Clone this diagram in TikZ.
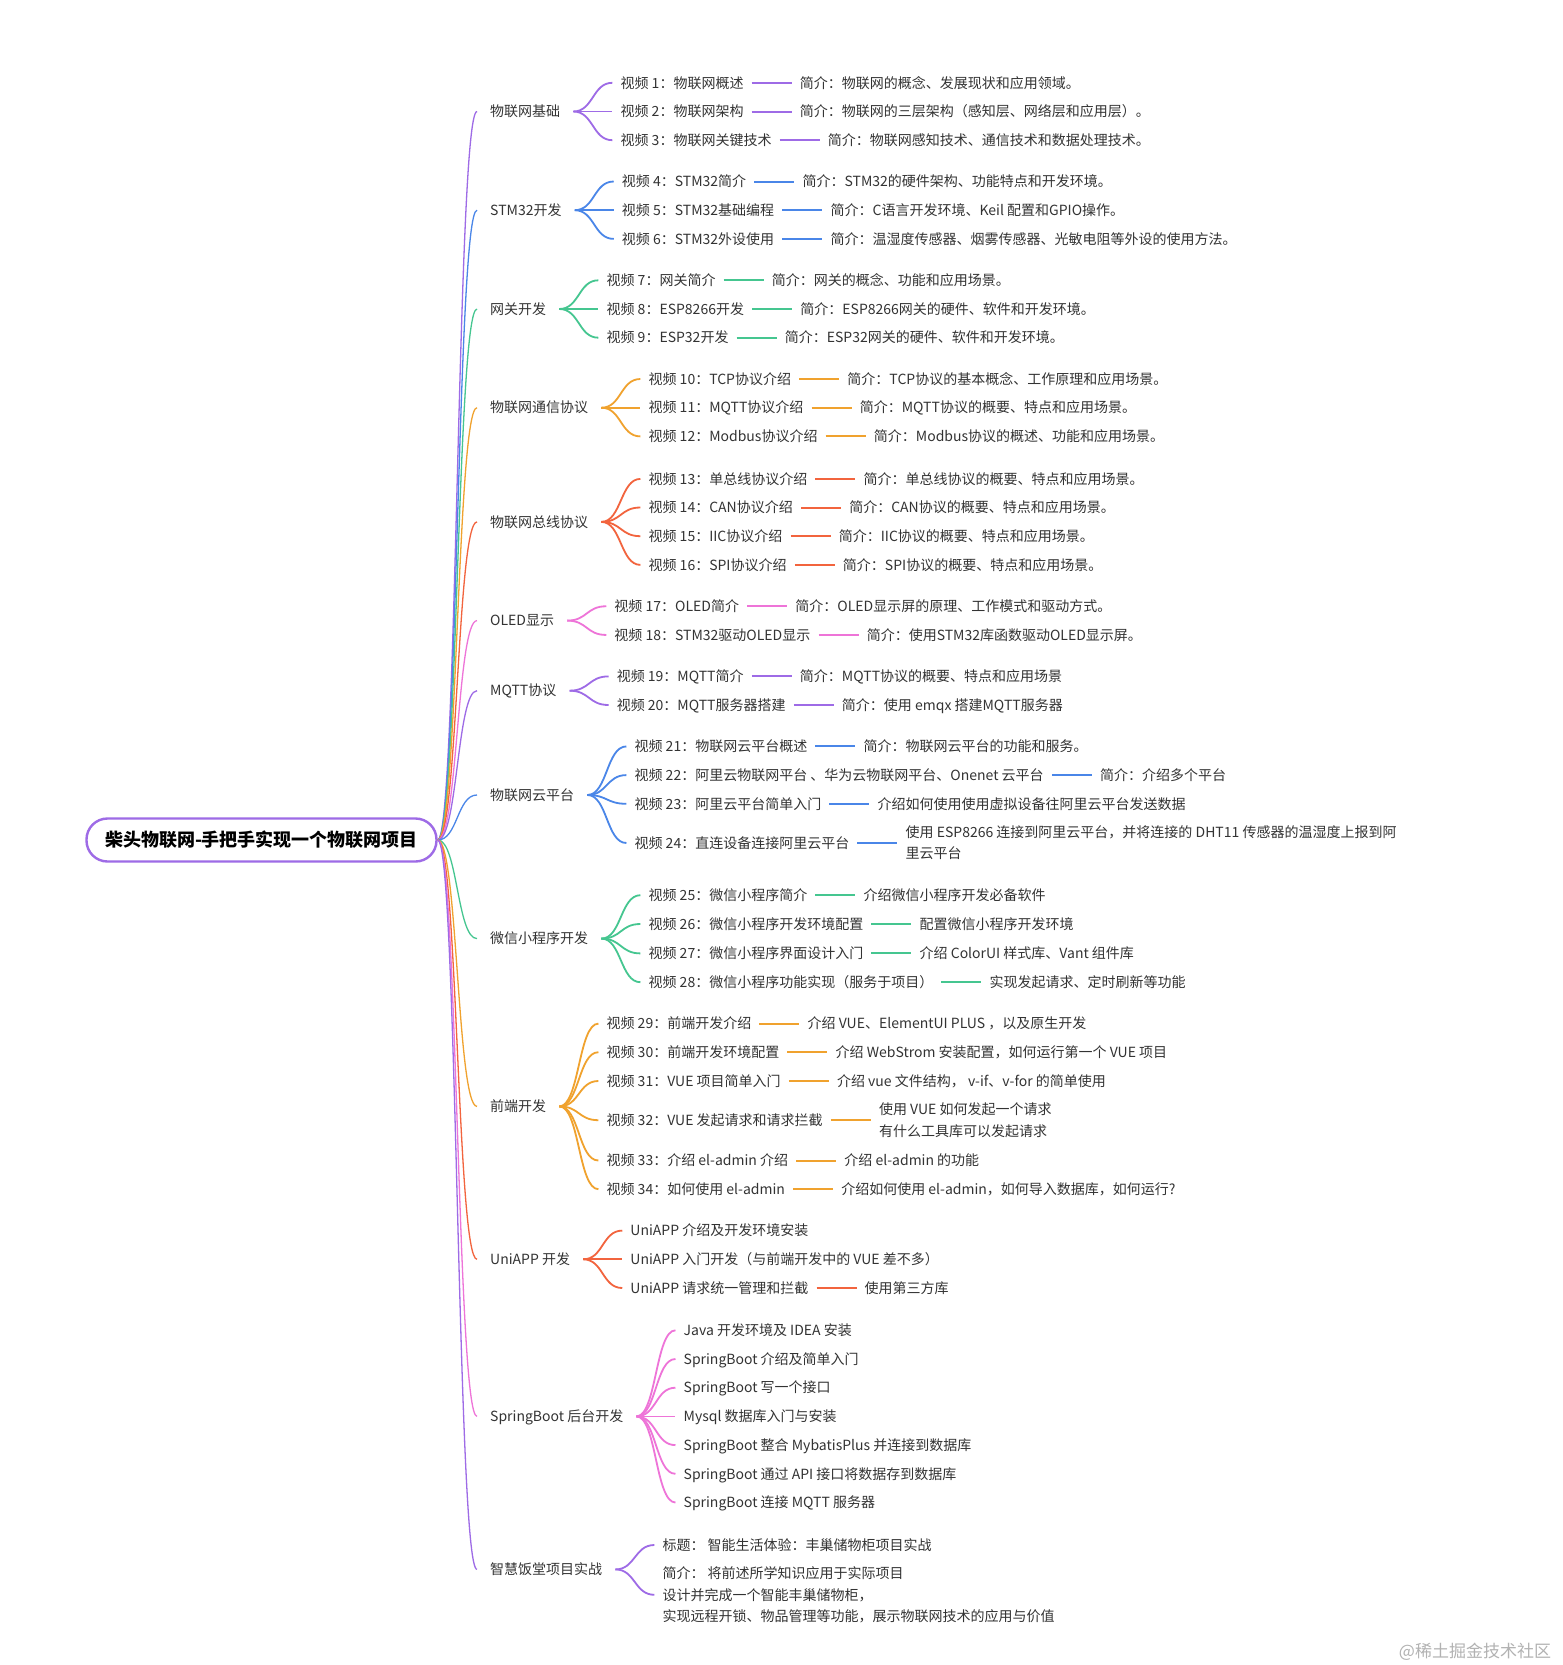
\documentclass[tikz,border=0pt]{standalone}
\usepackage{fontspec}
\setmainfont{Noto Sans CJK SC}
\usetikzlibrary{positioning,calc}

\definecolor{mpurple}{HTML}{9E6BE6}
\definecolor{mblue}{HTML}{4A86E8}
\definecolor{mgreen}{HTML}{45C690}
\definecolor{morange}{HTML}{F0A22E}
\definecolor{mred}{HTML}{F2643E}
\definecolor{mpink}{HTML}{EE74D8}
\definecolor{mtext}{HTML}{333333}

\begin{document}
\begin{tikzpicture}[
  x=1pt, y=-1pt,
  every node/.style={font=\fontsize{14pt}{21.2pt}\selectfont, text=mtext},
  root/.style={draw=mpurple, line width=2.4pt, rounded corners=21pt, fill=white,
    minimum width=350pt, minimum height=43pt, text=black,
    font=\fontsize{18pt}{20pt}\selectfont\bfseries},
  topic/.style={anchor=west, inner xsep=13pt, inner ysep=2pt,
    text height=12pt, text depth=1.5pt},
  leaf/.style={anchor=west, inner xsep=8pt, inner ysep=2pt,
    text height=12pt, text depth=1.5pt},
  lines/.style={align=left, text height={}, text depth={}},
  trunk/.style={line width=1.3pt},
  twig/.style={line width=1.8pt},
  link/.style={line width=2pt},
]
\path[fill=white, use as bounding box] (0,0) rectangle (1563,1665);

\node[root] (root) at (261.5,840) {柴头物联网-手把手实现一个物联网项目};

% 物联网基础
\node[topic] (g1) at (477,111.5) {物联网基础};
\draw[trunk, mpurple] (root.east) .. controls +(20,0) and +(-20,0) .. (g1.west);
\foreach \i/\dy/\vid/\txt in {
    1/-28.7/{视频 1：物联网概述}/{简介：物联网的概念、发展现状和应用领域。},
    2/0/{视频 2：物联网架构}/{简介：物联网的三层架构（感知层、网络层和应用层）。},
    3/28.7/{视频 3：物联网关键技术}/{简介：物联网感知技术、通信技术和数据处理技术。}} {
  \node[leaf] (g1c\i) at ($(g1.east)+(39,\dy)$) {\vid};
  \node[leaf, right=40pt of g1c\i] (g1n\i) {\txt};
  \draw[twig, mpurple] (g1.east) .. controls +(20,0) and +(-20,0) .. (g1c\i.west);
  \draw[link, mpurple] (g1c\i) -- (g1n\i);
}

% STM32开发
\node[topic] (g2) at (477,210.2) {STM32开发};
\draw[trunk, mblue] (root.east) .. controls +(20,0) and +(-20,0) .. (g2.west);
\foreach \i/\dy/\vid/\txt in {
    1/-28.7/{视频 4：STM32简介}/{简介：STM32的硬件架构、功能特点和开发环境。},
    2/0/{视频 5：STM32基础编程}/{简介：C语言开发环境、Keil 配置和GPIO操作。},
    3/28.7/{视频 6：STM32外设使用}/{简介：温湿度传感器、烟雾传感器、光敏电阻等外设的使用方法。}} {
  \node[leaf] (g2c\i) at ($(g2.east)+(39,\dy)$) {\vid};
  \node[leaf, right=40pt of g2c\i] (g2n\i) {\txt};
  \draw[twig, mblue] (g2.east) .. controls +(20,0) and +(-20,0) .. (g2c\i.west);
  \draw[link, mblue] (g2c\i) -- (g2n\i);
}

% 网关开发
\node[topic] (g3) at (477,309) {网关开发};
\draw[trunk, mgreen] (root.east) .. controls +(20,0) and +(-20,0) .. (g3.west);
\foreach \i/\dy/\vid/\txt in {
    1/-28.7/{视频 7：网关简介}/{简介：网关的概念、功能和应用场景。},
    2/0/{视频 8：ESP8266开发}/{简介：ESP8266网关的硬件、软件和开发环境。},
    3/28.7/{视频 9：ESP32开发}/{简介：ESP32网关的硬件、软件和开发环境。}} {
  \node[leaf] (g3c\i) at ($(g3.east)+(39,\dy)$) {\vid};
  \node[leaf, right=40pt of g3c\i] (g3n\i) {\txt};
  \draw[twig, mgreen] (g3.east) .. controls +(20,0) and +(-20,0) .. (g3c\i.west);
  \draw[link, mgreen] (g3c\i) -- (g3n\i);
}

% 物联网通信协议
\node[topic] (g4) at (477,407.7) {物联网通信协议};
\draw[trunk, morange] (root.east) .. controls +(20,0) and +(-20,0) .. (g4.west);
\foreach \i/\dy/\vid/\txt in {
    1/-28.7/{视频 10：TCP协议介绍}/{简介：TCP协议的基本概念、工作原理和应用场景。},
    2/0/{视频 11：MQTT协议介绍}/{简介：MQTT协议的概要、特点和应用场景。},
    3/28.7/{视频 12：Modbus协议介绍}/{简介：Modbus协议的概述、功能和应用场景。}} {
  \node[leaf] (g4c\i) at ($(g4.east)+(39,\dy)$) {\vid};
  \node[leaf, right=40pt of g4c\i] (g4n\i) {\txt};
  \draw[twig, morange] (g4.east) .. controls +(20,0) and +(-20,0) .. (g4c\i.west);
  \draw[link, morange] (g4c\i) -- (g4n\i);
}

% 物联网总线协议
\node[topic] (g5) at (477,521.9) {物联网总线协议};
\draw[trunk, mred] (root.east) .. controls +(20,0) and +(-20,0) .. (g5.west);
\foreach \i/\dy/\vid/\txt in {
    1/-43/{视频 13：单总线协议介绍}/{简介：单总线协议的概要、特点和应用场景。},
    2/-14.4/{视频 14：CAN协议介绍}/{简介：CAN协议的概要、特点和应用场景。},
    3/14.3/{视频 15：IIC协议介绍}/{简介：IIC协议的概要、特点和应用场景。},
    4/43/{视频 16：SPI协议介绍}/{简介：SPI协议的概要、特点和应用场景。}} {
  \node[leaf] (g5c\i) at ($(g5.east)+(39,\dy)$) {\vid};
  \node[leaf, right=40pt of g5c\i] (g5n\i) {\txt};
  \draw[twig, mred] (g5.east) .. controls +(20,0) and +(-20,0) .. (g5c\i.west);
  \draw[link, mred] (g5c\i) -- (g5n\i);
}

% OLED显示
\node[topic] (g6) at (477,620.6) {OLED显示};
\draw[trunk, mpink] (root.east) .. controls +(20,0) and +(-20,0) .. (g6.west);
\foreach \i/\dy/\vid/\txt in {
    1/-14.35/{视频 17：OLED简介}/{简介：OLED显示屏的原理、工作模式和驱动方式。},
    2/14.35/{视频 18：STM32驱动OLED显示}/{简介：使用STM32库函数驱动OLED显示屏。}} {
  \node[leaf] (g6c\i) at ($(g6.east)+(39,\dy)$) {\vid};
  \node[leaf, right=40pt of g6c\i] (g6n\i) {\txt};
  \draw[twig, mpink] (g6.east) .. controls +(20,0) and +(-20,0) .. (g6c\i.west);
  \draw[link, mpink] (g6c\i) -- (g6n\i);
}

% MQTT协议
\node[topic] (g7) at (477,690.7) {MQTT协议};
\draw[trunk, mpurple] (root.east) .. controls +(20,0) and +(-20,0) .. (g7.west);
\foreach \i/\dy/\vid/\txt in {
    1/-14.3/{视频 19：MQTT简介}/{简介：MQTT协议的概要、特点和应用场景},
    2/14.3/{视频 20：MQTT服务器搭建}/{简介：使用 emqx 搭建MQTT服务器}} {
  \node[leaf] (g7c\i) at ($(g7.east)+(39,\dy)$) {\vid};
  \node[leaf, right=40pt of g7c\i] (g7n\i) {\txt};
  \draw[twig, mpurple] (g7.east) .. controls +(20,0) and +(-20,0) .. (g7c\i.west);
  \draw[link, mpurple] (g7c\i) -- (g7n\i);
}

% 物联网云平台
\node[topic] (g8) at (477,795) {物联网云平台};
\draw[trunk, mblue] (root.east) .. controls +(20,0) and +(-20,0) .. (g8.west);
\foreach \i/\dy/\vid/\txt in {
    1/-48.6/{视频 21：物联网云平台概述}/{简介：物联网云平台的功能和服务。},
    2/-19.9/{视频 22：阿里云物联网平台 、华为云物联网平台、Onenet 云平台}/{简介：介绍多个平台},
    3/8.8/{视频 23：阿里云平台简单入门}/{介绍如何使用使用虚拟设备往阿里云平台发送数据}} {
  \node[leaf] (g8c\i) at ($(g8.east)+(39,\dy)$) {\vid};
  \node[leaf, right=40pt of g8c\i] (g8n\i) {\txt};
  \draw[twig, mblue] (g8.east) .. controls +(20,0) and +(-20,0) .. (g8c\i.west);
  \draw[link, mblue] (g8c\i) -- (g8n\i);
}
\node[leaf] (g8c4) at ($(g8.east)+(39,48)$) {视频 24：直连设备连接阿里云平台};
\node[leaf, lines, right=40pt of g8c4] (g8n4)
  {使用 ESP8266 连接到阿里云平台，并将连接的 DHT11 传感器的温湿度上报到阿\\里云平台};
\draw[twig, mblue] (g8.east) .. controls +(20,0) and +(-20,0) .. (g8c4.west);
\draw[link, mblue] (g8c4) -- (g8n4);

% 微信小程序开发
\node[topic] (g9) at (477,938.6) {微信小程序开发};
\draw[trunk, mgreen] (root.east) .. controls +(20,0) and +(-20,0) .. (g9.west);
\foreach \i/\dy/\vid/\txt in {
    1/-43.4/{视频 25：微信小程序简介}/{介绍微信小程序开发必备软件},
    2/-14.6/{视频 26：微信小程序开发环境配置}/{配置微信小程序开发环境},
    3/14.8/{视频 27：微信小程序界面设计入门}/{介绍 ColorUI 样式库、Vant 组件库},
    4/43.6/{视频 28：微信小程序功能实现（服务于项目）}/{实现发起请求、定时刷新等功能}} {
  \node[leaf] (g9c\i) at ($(g9.east)+(39,\dy)$) {\vid};
  \node[leaf, right=40pt of g9c\i] (g9n\i) {\txt};
  \draw[twig, mgreen] (g9.east) .. controls +(20,0) and +(-20,0) .. (g9c\i.west);
  \draw[link, mgreen] (g9c\i) -- (g9n\i);
}

% 前端开发
\node[topic] (g10) at (477,1106.4) {前端开发};
\draw[trunk, morange] (root.east) .. controls +(20,0) and +(-20,0) .. (g10.west);
\foreach \i/\dy/\vid/\txt in {
    1/-82.8/{视频 29：前端开发介绍}/{介绍 VUE、ElementUI PLUS ，以及原生开发},
    2/-54.2/{视频 30：前端开发环境配置}/{介绍 WebStrom 安装配置，如何运行第一个 VUE 项目},
    3/-25.4/{视频 31：VUE 项目简单入门}/{介绍 vue 文件结构， v-if、v-for 的简单使用},
    5/54.1/{视频 33：介绍 el-admin 介绍}/{介绍 el-admin 的功能},
    6/82.8/{视频 34：如何使用 el-admin}/{介绍如何使用 el-admin，如何导入数据库，如何运行?}} {
  \node[leaf] (g10c\i) at ($(g10.east)+(39,\dy)$) {\vid};
  \node[leaf, right=40pt of g10c\i] (g10n\i) {\txt};
  \draw[twig, morange] (g10.east) .. controls +(20,0) and +(-20,0) .. (g10c\i.west);
  \draw[link, morange] (g10c\i) -- (g10n\i);
}
\node[leaf] (g10c4) at ($(g10.east)+(39,13.8)$) {视频 32：VUE 发起请求和请求拦截};
\node[leaf, lines, right=40pt of g10c4] (g10n4)
  {使用 VUE 如何发起一个请求\\有什么工具库可以发起请求};
\draw[twig, morange] (g10.east) .. controls +(20,0) and +(-20,0) .. (g10c4.west);
\draw[link, morange] (g10c4) -- (g10n4);

% UniAPP 开发
\node[topic] (g11) at (477,1259.3) {UniAPP 开发};
\draw[trunk, mred] (root.east) .. controls +(20,0) and +(-20,0) .. (g11.west);
\foreach \i/\dy/\vid in {
    1/-28.7/{UniAPP 介绍及开发环境安装},
    2/0/{UniAPP 入门开发（与前端开发中的 VUE 差不多）},
    3/28.7/{UniAPP 请求统一管理和拦截}} {
  \node[leaf] (g11c\i) at ($(g11.east)+(39,\dy)$) {\vid};
  \draw[twig, mred] (g11.east) .. controls +(20,0) and +(-20,0) .. (g11c\i.west);
}
\node[leaf, right=40pt of g11c3] (g11n3) {使用第三方库};
\draw[link, mred] (g11c3) -- (g11n3);

% SpringBoot 后台开发
\node[topic] (g12) at (477,1416.4) {SpringBoot 后台开发};
\draw[trunk, mpink] (root.east) .. controls +(20,0) and +(-20,0) .. (g12.west);
\foreach \i/\dy/\vid in {
    1/-86.1/{Java 开发环境及 IDEA 安装},
    2/-57.4/{SpringBoot 介绍及简单入门},
    3/-28.7/{SpringBoot 写一个接口},
    4/0/{Mysql 数据库入门与安装},
    5/28.7/{SpringBoot 整合 MybatisPlus 并连接到数据库},
    6/57.4/{SpringBoot 通过 API 接口将数据存到数据库},
    7/86.1/{SpringBoot 连接 MQTT 服务器}} {
  \node[leaf] (g12c\i) at ($(g12.east)+(39,\dy)$) {\vid};
  \draw[twig, mpink] (g12.east) .. controls +(20,0) and +(-20,0) .. (g12c\i.west);
}

% 智慧饭堂项目实战
\node[topic] (g13) at (477,1569.4) {智慧饭堂项目实战};
\draw[trunk, mpurple] (root.east) .. controls +(20,0) and +(-20,0) .. (g13.west);
\node[leaf] (g13c1) at ($(g13.east)+(39,-24.4)$) {标题： 智能生活体验：丰巢储物柜项目实战};
\node[leaf, lines] (g13c2) at ($(g13.east)+(39,25.4)$)
  {简介： 将前述所学知识应用于实际项目\\设计并完成一个智能丰巢储物柜，\\实现远程开锁、物品管理等功能，展示物联网技术的应用与价值};
\foreach \i in {1,2}
  \draw[twig, mpurple] (g13.east) .. controls +(20,0) and +(-20,0) .. (g13c\i.west);

\node[text=gray!60, font=\fontsize{17pt}{20pt}\selectfont] (mark) at (1475,1652) {@稀土掘金技术社区};
\end{tikzpicture}
\end{document}
